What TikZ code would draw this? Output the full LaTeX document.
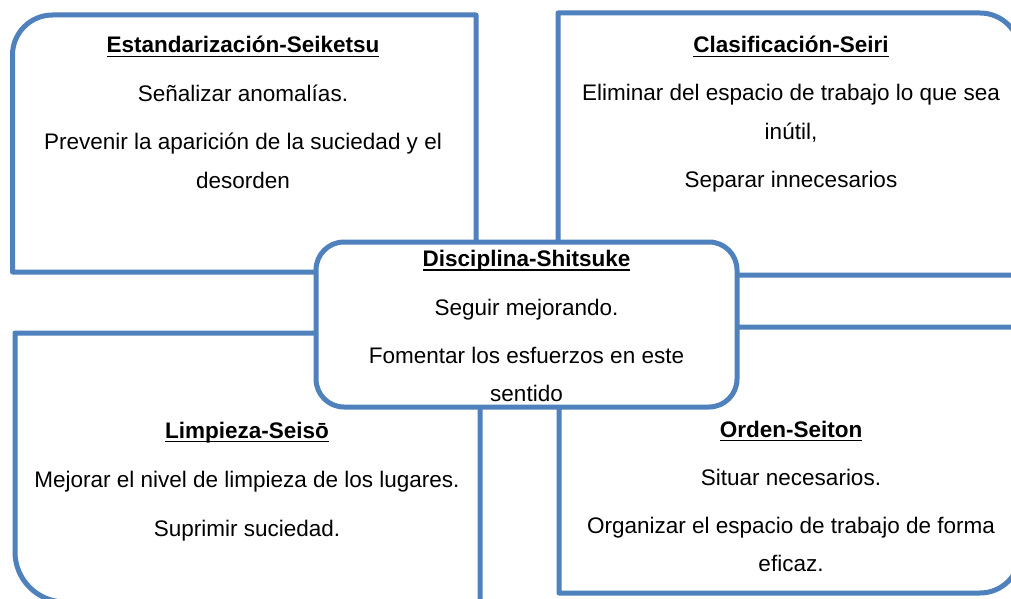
\documentclass[tikz,border=0pt]{standalone}
\usepackage{fontspec}
\setmainfont{Liberation Sans}
\definecolor{boxblue}{RGB}{79,129,189}
\newcommand\myul[1]{\setbox0\hbox{#1}\rlap{\rule[-4pt]{\wd0}{1.4pt}}\box0}
\begin{document}
\begin{tikzpicture}[x=1pt,y=1pt,
  box/.style={draw=boxblue,line width=5pt,line join=round},
  txt/.style={anchor=base,inner sep=0pt,font=\fontsize{22.5}{27}\selectfont},
  head/.style={txt,font=\fontsize{22.5}{27}\selectfont\bfseries}]
\clip (0,0) rectangle (1011,598);
\fill[white] (0,0) rectangle (1011,598);
% outer boxes
\draw[box] (12.5,326) -- (12.5,543) arc[start angle=180,end angle=90,radius=40] -- (476,583) -- (476,326) -- cycle;
\draw[box] (558,323) -- (558,585) -- (980,585) arc[start angle=90,end angle=0,radius=40] -- (1020,323) -- cycle;
\draw[box] (15,265) -- (480,265) -- (480,-4) -- (65,-4) arc[start angle=270,end angle=180,radius=50] -- cycle;
\draw[box] (559,271) -- (1020,271) -- (1020,45) arc[start angle=0,end angle=-90,radius=40] -- (559,5) -- cycle;
% centre box
\node[box,fill=white,rounded corners=28pt,minimum width=421pt,minimum height=165pt,inner sep=0pt] (centre) at (526.5,273.5) {};
% top-left
\node[head] (h1) at (243,545) {\myul{Estandarización-Seiketsu}};
\node[txt] (t1a) at (243,496) {Señalizar anomalías.};
\node[txt] (t1b) at (243,448) {Prevenir la aparición de la suciedad y el};
\node[txt] (t1c) at (243,409) {desorden};
% top-right
\node[head] (h2) at (791,545) {\myul{Clasificación-Seiri}};
\node[txt] (t2a) at (791,497) {Eliminar del espacio de trabajo lo que sea};
\node[txt] (t2b) at (791,458) {inútil,};
\node[txt] (t2c) at (791,410) {Separar innecesarios};
% centre
\node[head] (h3) at (526.5,331.5) {\myul{Disciplina-Shitsuke}};
\node[txt] (t3a) at (526.5,283) {Seguir mejorando.};
\node[txt] (t3b) at (526.5,235) {Fomentar los esfuerzos en este};
\node[txt] (t3c) at (526.5,197) {sentido};
% bottom-left
\node[head] (h4) at (247,160) {\myul{Limpieza-Seisō}};
\node[txt] (t4a) at (247,111) {Mejorar el nivel de limpieza de los lugares.};
\node[txt] (t4b) at (247,62) {Suprimir suciedad.};
% bottom-right
\node[head] (h5) at (791,161) {\myul{Orden-Seiton}};
\node[txt] (t5a) at (791,113) {Situar necesarios.};
\node[txt] (t5b) at (791,65) {Organizar el espacio de trabajo de forma};
\node[txt] (t5c) at (791,27) {eficaz.};
\end{tikzpicture}
\end{document}
